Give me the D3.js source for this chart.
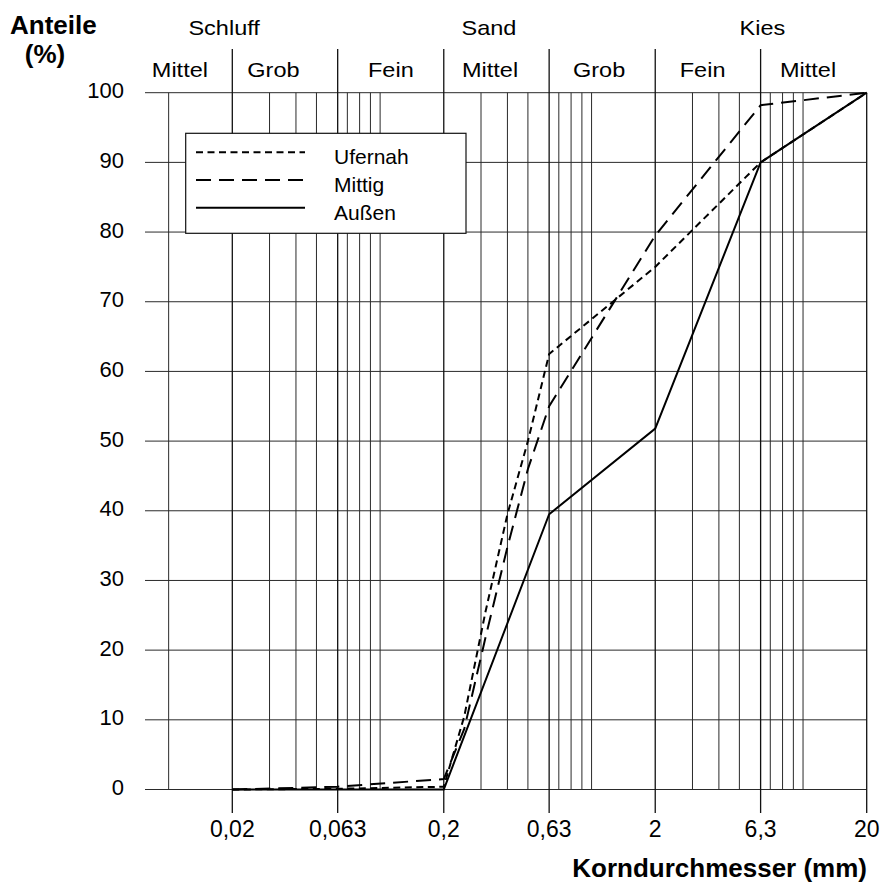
<!DOCTYPE html>
<html>
<head>
<meta charset="utf-8">
<script src="https://cdn.jsdelivr.net/npm/d3@7"></script>
<style>
  html, body { margin: 0; padding: 0; background: #fff; }
  svg { display: block; font-family: "Liberation Sans", Arial, Helvetica, sans-serif; }
</style>
</head>
<body>
<svg id="chart" width="886" height="896"></svg>
<script>
// ---- data ----
const majorTicks = [0.02, 0.063, 0.2, 0.63, 2, 6.3, 20];
const majorTickLabels = ["0,02", "0,063", "0,2", "0,63", "2", "6,3", "20"];
const minorTicks = [0.01, 0.03, 0.04, 0.05, 0.07, 0.08, 0.09, 0.1,
                    0.3, 0.4, 0.5, 0.7, 0.8, 0.9, 1, 3, 4, 5, 7, 8, 9, 10];
const yTicks = [0, 10, 20, 30, 40, 50, 60, 70, 80, 90, 100];

const groupNames = ["Schluff", "Sand", "Kies"];
const subNames = ["Mittel", "Grob", "Fein", "Mittel", "Grob", "Fein", "Mittel"];

const seriesNames = ["Ufernah", "Mittig", "Außen"];
const ufernahX = [0.02, 0.063, 0.2, 0.25, 0.315, 0.4, 0.5, 0.63, 2, 6.3, 20];
const ufernahY = [0, 0.1, 0.4, 10.5, 25.5, 39.5, 50, 62.5, 75, 90, 100];
const mittigX  = [0.02, 0.063, 0.2, 0.25, 0.315, 0.4, 0.5, 0.63, 2, 6.3, 20];
const mittigY  = [0, 0.4, 1.5, 8.7, 21.8, 34.8, 46, 55, 79.5, 98.2, 100];
const aussenX  = [0.02, 0.063, 0.2, 0.63, 2, 6.3, 20];
const aussenY  = [0, 0, 0, 39.5, 51.8, 90, 100];

// ---- layout ----
const svg = d3.select("#chart");
const x = d3.scaleLog().domain([0.00773, 20]).range([145, 866.7]);
const y = d3.scaleLinear().domain([0, 100]).range([789.5, 92.7]);

// label anchor positions (domain units)
const groupPos = [0.0183, 0.327, 6.43];
const subPos = [0.0113, 0.0313, 0.1124, 0.331, 1.085, 3.35, 10.56];

const gridColor = "#2a2a2a";

// horizontal grid
svg.append("g").selectAll("line").data(yTicks).join("line")
  .attr("x1", x.range()[0]).attr("x2", x.range()[1])
  .attr("y1", d => y(d)).attr("y2", d => y(d))
  .attr("stroke", gridColor).attr("stroke-width", 1);

// minor vertical grid
svg.append("g").selectAll("line").data(minorTicks).join("line")
  .attr("x1", d => x(d)).attr("x2", d => x(d))
  .attr("y1", y(100)).attr("y2", y(0))
  .attr("stroke", gridColor).attr("stroke-width", 1);

// major vertical lines (extend below as ticks, above as header separators except last)
svg.append("g").selectAll("line").data(majorTicks).join("line")
  .attr("x1", d => x(d)).attr("x2", d => x(d))
  .attr("y1", (d, i) => i < majorTicks.length - 1 ? 49 : y(100))
  .attr("y2", y(0) + 23.5)
  .attr("stroke", "#111").attr("stroke-width", 1.3);

// x tick labels
svg.append("g").selectAll("text").data(majorTicks).join("text")
  .attr("x", d => x(d)).attr("y", 837)
  .attr("text-anchor", "middle").attr("font-size", 23)
  .text((d, i) => majorTickLabels[i]);

// y tick labels
svg.append("g").selectAll("text").data(yTicks).join("text")
  .attr("x", 124).attr("y", d => y(d) + 5.5)
  .attr("text-anchor", "end").attr("font-size", 22)
  .text(d => d);

// header labels
const hdrScale = 1.12;
svg.append("g").selectAll("text").data(groupNames).join("text")
  .attr("transform", (d, i) => `translate(${x(groupPos[i])},35) scale(${hdrScale},1)`)
  .attr("text-anchor", "middle").attr("font-size", 21)
  .text(d => d);
svg.append("g").selectAll("text").data(subNames).join("text")
  .attr("transform", (d, i) => `translate(${x(subPos[i])},77.3) scale(${hdrScale},1)`)
  .attr("text-anchor", "middle").attr("font-size", 21)
  .text(d => d);

// axis titles
svg.append("text").attr("x", 10).attr("y", 34.3)
  .attr("font-size", 26).attr("font-weight", "bold").text("Anteile");
svg.append("text").attr("x", 45).attr("y", 62.8).attr("text-anchor", "middle")
  .attr("font-size", 26).attr("font-weight", "bold").text("(%)");
svg.append("text").attr("x", 867).attr("y", 876.5).attr("text-anchor", "end")
  .attr("font-size", 26).attr("font-weight", "bold").text("Korndurchmesser (mm)");

// data lines
const dashes = ["7,4.5", "15,8", null];
const seriesData = [
  ufernahX.map((v, i) => [v, ufernahY[i]]),
  mittigX.map((v, i) => [v, mittigY[i]]),
  aussenX.map((v, i) => [v, aussenY[i]])
];
const line = d3.line().x(d => x(d[0])).y(d => y(d[1]));
svg.append("g").selectAll("path").data(seriesData).join("path")
  .attr("d", line)
  .attr("fill", "none").attr("stroke", "#000").attr("stroke-width", 2)
  .attr("stroke-dasharray", (d, i) => dashes[i]);

// legend
const lg = svg.append("g");
lg.append("rect").attr("x", 185.7).attr("y", 133.3).attr("width", 280.3).attr("height", 100)
  .attr("fill", "#fff").attr("stroke", "#111").attr("stroke-width", 1.2);
const legendRows = lg.selectAll("g.row").data(seriesNames).join("g")
  .attr("class", "row")
  .attr("transform", (d, i) => `translate(0,${152.3 + i * 27.7})`);
legendRows.append("line")
  .attr("x1", 196).attr("x2", 305).attr("y1", 0).attr("y2", 0)
  .attr("stroke", "#000").attr("stroke-width", 2)
  .attr("stroke-dasharray", (d, i) => dashes[i]);
legendRows.append("text")
  .attr("x", 334).attr("y", 12).attr("font-size", 21)
  .text(d => d);
</script>
</body>
</html>
